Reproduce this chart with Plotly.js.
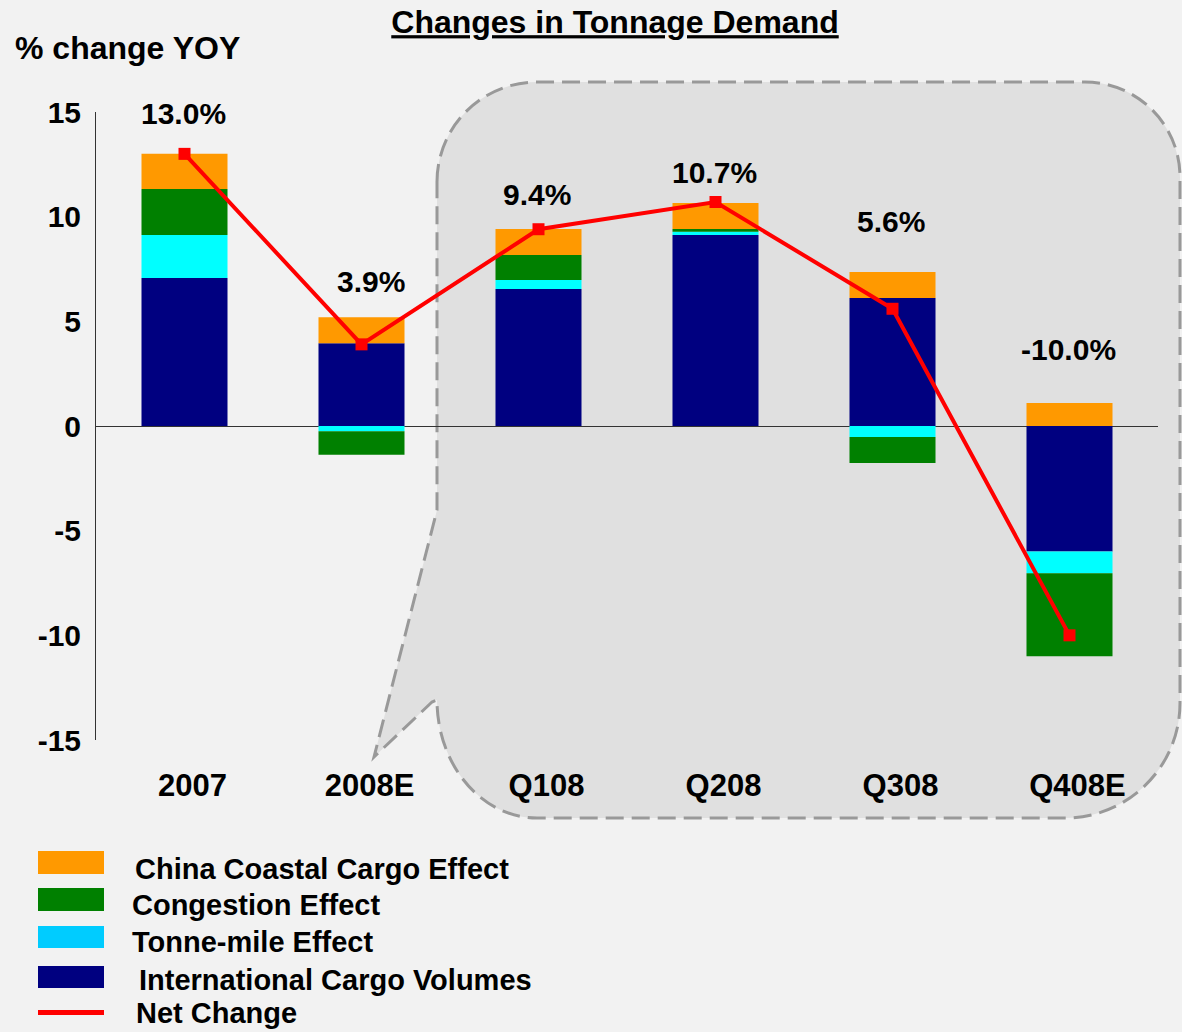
<!DOCTYPE html>
<html>
<head>
<meta charset="utf-8">
<script src="https://cdn.plot.ly/plotly-3.0.1.min.js"></script>
<style>
  html, body { margin: 0; padding: 0; background: #f2f2f2; }
  #chart { width: 1182px; height: 1032px; }
</style>
</head>
<body>
<div id="chart"></div>
<script>
// ---- Data ----
const categories   = ['2007', '2008E', 'Q108', 'Q208', 'Q308', 'Q408E'];
const intlCargo    = [7.07, 3.95, 6.55, 9.13, 6.12, -6.00];
const tonneMile    = [2.06, -0.25, 0.43, 0.15, -0.53, -1.04];
const congestion   = [2.19, -1.12, 1.19, 0.13, -1.24, -3.96];
const chinaCoastal = [1.68, 1.25, 1.24, 1.24, 1.24, 1.10];
const netChange    = [13.0, 3.9, 9.4, 10.7, 5.6, -10.0];
const yTicks       = [15, 10, 5, 0, -5, -10, -15];

const seriesNames = {
  china: 'China Coastal Cargo Effect',
  cong: 'Congestion Effect',
  tonne: 'Tonne-mile Effect',
  intl: 'International Cargo Volumes',
  net: 'Net Change'
};

// ---- Layout geometry (pixels) ----
const W = 1182, H = 1032;
const PL = 96, PR = 1158, PT = 112, PB = 740;
const px2x = p => (p - PL) / (PR - PL);
const px2y = p => (PB - p) / (PB - PT);

const FONT = 'Arial, "Liberation Sans", sans-serif';
const COL = { navy: '#000080', cyan: '#00FFFF', green: '#008000', orange: '#FF9900', red: '#FF0000' };

const barW = 0.486;
const traces = [
  { type: 'bar', name: seriesNames.intl, x: categories, y: intlCargo, width: barW,
    marker: { color: COL.navy, line: { width: 0 } }, hoverinfo: 'name+y' },
  { type: 'bar', name: seriesNames.tonne, x: categories, y: tonneMile, width: barW,
    marker: { color: COL.cyan, line: { width: 0 } }, hoverinfo: 'name+y' },
  { type: 'bar', name: seriesNames.cong, x: categories, y: congestion, width: barW,
    marker: { color: COL.green, line: { width: 0 } }, hoverinfo: 'name+y' },
  { type: 'bar', name: seriesNames.china, x: categories, y: chinaCoastal, width: barW,
    marker: { color: COL.orange, line: { width: 0 } }, hoverinfo: 'name+y' },
  { type: 'scatter', mode: 'lines+markers', name: seriesNames.net, x: categories, y: netChange,
    line: { color: COL.red, width: 4 },
    marker: { color: COL.red, symbol: 'square', size: 12 }, hoverinfo: 'name+y' }
];

// ---- Callout (rounded speech bubble) ----
function P(x, y) { return px2x(x).toFixed(5) + ',' + px2y(y).toFixed(5); }
const k = 0.552;
const cL = 437, cR = 1180, cT = 82, cB = 818;
const rTL = 100, rTR = 95, rBR = 115, rBLx = 100, rBLy = 118;
const calloutPath = [
  'M' + P(cL, cT + rTL),
  'C' + P(cL, cT + rTL - k * rTL) + ' ' + P(cL + rTL - k * rTL, cT) + ' ' + P(cL + rTL, cT),
  'L' + P(cR - rTR, cT),
  'C' + P(cR - rTR + k * rTR, cT) + ' ' + P(cR, cT + rTR - k * rTR) + ' ' + P(cR, cT + rTR),
  'L' + P(cR, cB - rBR),
  'C' + P(cR, cB - rBR + k * rBR) + ' ' + P(cR - rBR + k * rBR, cB) + ' ' + P(cR - rBR, cB),
  'L' + P(cL + rBLx, cB),
  'C' + P(cL + rBLx - k * rBLx, cB) + ' ' + P(cL, cB - rBLy + k * rBLy) + ' ' + P(cL, cB - rBLy),
  'L' + P(432, 702),
  'L' + P(374, 757),
  'L' + P(cL, 510),
  'Z'
].join(' ');

const shapes = [
  { type: 'path', xref: 'paper', yref: 'paper', layer: 'below', path: calloutPath,
    fillcolor: '#e0e0e0', line: { color: '#999999', width: 3, dash: '18px,8px' } }
];

// ---- Custom legend ----
const legendRows = [
  { name: seriesNames.china, color: COL.orange, y0: 851, y1: 874, tx: 133, ty: 869, kind: 'box' },
  { name: seriesNames.cong, color: COL.green, y0: 888, y1: 911, tx: 130, ty: 905, kind: 'box' },
  { name: seriesNames.tonne, color: '#00CCFF', y0: 926, y1: 948, tx: 130, ty: 942, kind: 'box' },
  { name: seriesNames.intl, color: COL.navy, y0: 966, y1: 988, tx: 137, ty: 980, kind: 'box' },
  { name: seriesNames.net, color: COL.red, y0: 1010, y1: 1015, tx: 134, ty: 1013, kind: 'line' }
];
const annotations = [];
legendRows.forEach(r => {
  shapes.push({ type: 'rect', xref: 'paper', yref: 'paper',
    x0: px2x(38), x1: px2x(104), y0: px2y(r.y1), y1: px2y(r.y0),
    fillcolor: r.color, line: { width: 0 } });
  annotations.push({ xref: 'paper', yref: 'paper', x: px2x(r.tx), y: px2y(r.ty),
    xanchor: 'left', yanchor: 'middle', showarrow: false, text: r.name,
    font: { family: FONT, size: 29, color: '#000', weight: 'bold' } });
});

// ---- Net change labels ----
const labelPx = [[183, 113], [371, 281], [537, 194], [714, 172], [891, 221], [1068, 349]];
netChange.forEach((v, i) => {
  annotations.push({ xref: 'paper', yref: 'paper', x: px2x(labelPx[i][0]), y: px2y(labelPx[i][1]),
    xanchor: 'center', yanchor: 'middle', showarrow: false, text: v.toFixed(1) + '%',
    font: { family: FONT, size: 30, color: '#000', weight: 'bold' } });
});

// ---- Y-axis caption ----
annotations.push({ xref: 'paper', yref: 'paper', x: px2x(13), y: px2y(48),
  xanchor: 'left', yanchor: 'middle', showarrow: false, text: '% change YOY',
  font: { family: FONT, size: 32, color: '#000', weight: 'bold' } });

const layout = {
  width: W, height: H,
  margin: { l: PL, r: W - PR, t: PT, b: H - PB, pad: 0 },
  paper_bgcolor: '#f2f2f2',
  plot_bgcolor: 'rgba(0,0,0,0)',
  barmode: 'relative',
  showlegend: false,
  title: {
    text: '<u>Changes in Tonnage Demand</u>',
    font: { family: FONT, size: 32, color: '#000', weight: 'bold' },
    x: 615 / W, xanchor: 'center', xref: 'container',
    y: 1 - 22 / H, yanchor: 'middle', yref: 'container'
  },
  xaxis: {
    type: 'category', categoryorder: 'array', categoryarray: categories,
    range: [-0.5, 5.5], showgrid: false, zeroline: false, showline: false,
    ticks: '', ticklabelstandoff: 24, ticklabelshift: 8,
    tickfont: { family: FONT, size: 31, color: '#000', weight: 'bold' }
  },
  yaxis: {
    range: [-15, 15], tickvals: yTicks, ticktext: yTicks.map(String),
    showgrid: false, zeroline: true, zerolinecolor: '#333333', zerolinewidth: 1,
    showline: true, linecolor: '#333333', linewidth: 1, ticks: '',
    ticklabelstandoff: 8,
    tickfont: { family: FONT, size: 30, color: '#000', weight: 'bold' }
  },
  shapes: shapes,
  annotations: annotations
};

Plotly.newPlot('chart', traces, layout, { displayModeBar: false, staticPlot: true });
</script>
</body>
</html>
